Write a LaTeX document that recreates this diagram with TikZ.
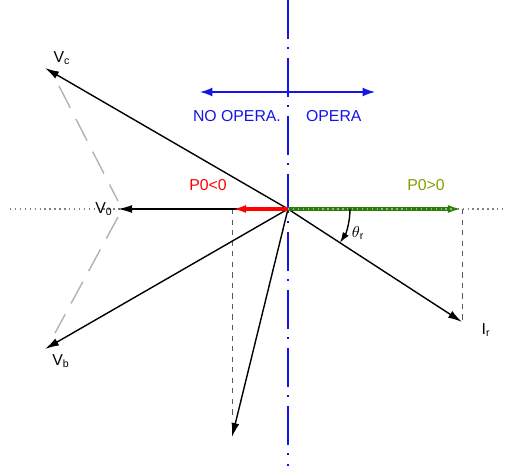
\documentclass[tikz,border=0pt]{standalone}
\usepackage{fontspec}
\setmainfont{Liberation Sans}
\usetikzlibrary{arrows.meta,calc}
\definecolor{vblue}{RGB}{20,20,230}
\definecolor{pgreen}{RGB}{40,130,0}
\definecolor{polive}{RGB}{130,160,0}

\begin{document}
\begin{tikzpicture}[x=0.02cm,y=-0.02cm, every node/.style={font=\small},
  vec/.style={-{Latex[length=8pt,width=4.5pt]}, line width=0.8pt},
  proj/.style={dashed, gray!70!black},
  lbl/.style={inner sep=1pt}]
  \useasboundingbox (0,0) rectangle (506,466);
  % axes
  \coordinate (O) at (288,209);
  \draw[dotted, gray, thick] (10,209) -- (505,209);
  \draw[vblue, thick, dash pattern=on 22pt off 5pt on 1pt off 5pt] (288,0) -- (288,466);
  % tips
  \coordinate (vc) at (45,68);
  \coordinate (v0) at (118,209);
  \coordinate (vb) at (45,349);
  \coordinate (ir) at (462,322);
  \coordinate (il) at (232,437);
  \coordinate (pp) at (462,209);
  \coordinate (pn) at (232,209);
  % triangle
  \draw[gray!60, thick, dash pattern=on 14pt off 7pt] ($(vc)+(14,18)$) -- ($(v0)+(0,-8)$);
  \draw[gray!60, thick, dash pattern=on 14pt off 7pt] ($(v0)+(0,8)$) -- ($(vb)+(10,-16)$);
  % projections
  \draw[proj] (pp) -- (ir);
  \draw[proj] (pn) -- ($(il)+(0,-22)$);
  % vectors
  \draw[vec] (O) -- (vc);
  \draw[vec] (O) -- (v0);
  \draw[vec] (O) -- (vb);
  \draw[vec] (O) -- (ir);
  \draw[vec] (O) -- (il);
  \draw[vec, red, line width=2.2pt] (O) -- (pn);
  \draw[vec, pgreen, line width=2pt] (O) -- (pp);
  \draw[dotted, gray!70, thick] (O) -- ($(pp)+(-10,0)$);
  % angle
  \draw[-{Latex[length=6pt,width=4pt]}, thick] (350,209) arc[start angle=0, end angle=33, radius=62];
  % labels
  \node[lbl] (lvc) at (62,58) {V\textsubscript{c}};
  \node[lbl] (lv0) at (104,209) {V\textsubscript{0}};
  \node[lbl] (lvb) at (61,361) {V\textsubscript{b}};
  \node[lbl] (lir) at (486,330) {I\textsubscript{r}};
  \node[lbl] (lth) at (358,233) {$\theta$\textsubscript{r}};
  \node[lbl, red] (lpn) at (208,185) {P0<0};
  \node[lbl, polive] (lpp) at (426,185) {P0>0};
  % operating zones
  \coordinate (zl) at (200,92);
  \coordinate (zr) at (375,92);
  \draw[vblue, thick, -{Latex[length=7pt,width=5pt]}] (O |- zl) -- (zl);
  \draw[vblue, thick, -{Latex[length=7pt,width=5pt]}] (O |- zr) -- (zr);
  \node[vblue, anchor=east, lbl] (no) at (283,116) {NO OPERA.};
  \node[vblue, anchor=west, lbl] (yes) at (304,116) {OPERA};
\end{tikzpicture}
\end{document}
